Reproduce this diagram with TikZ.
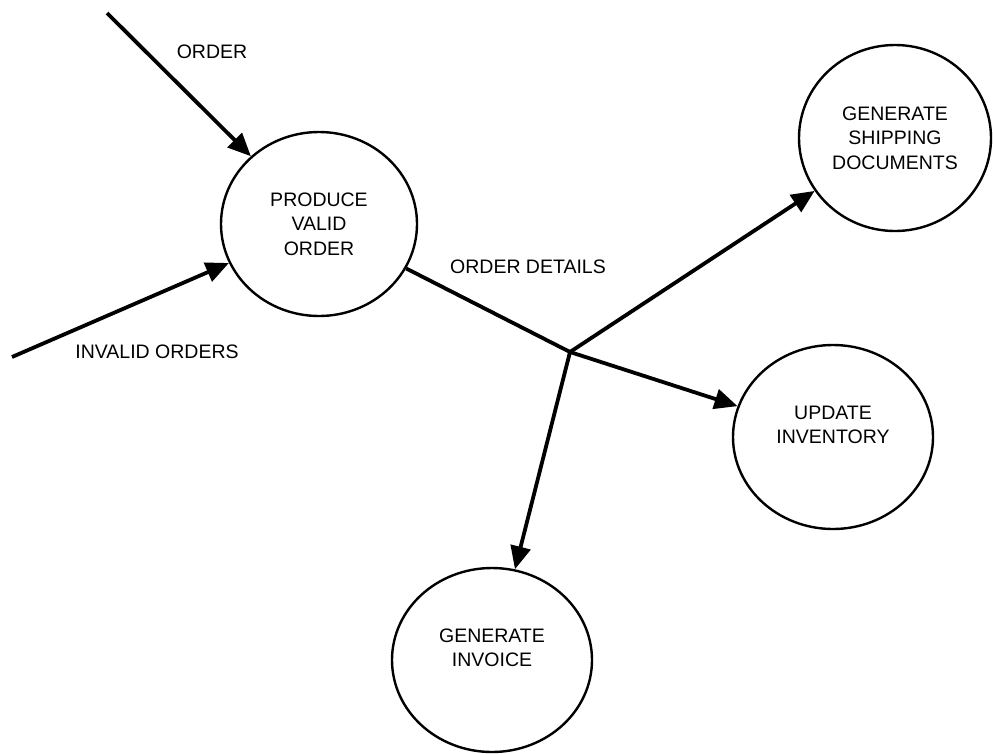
\documentclass[tikz,border=0pt]{standalone}
\usepackage{fontspec}
\setmainfont{Liberation Sans}
\usetikzlibrary{arrows.meta,shapes.geometric}

\begin{document}
\begin{tikzpicture}[
  x=1pt,y=-1pt,
  font=\fontsize{19.5}{24.5}\selectfont,
  proc/.style={ellipse,draw,line width=2.4pt,minimum width=196pt,minimum height=184pt,
               inner sep=2pt,align=center},
  flow/.style={-{Triangle[length=23pt,width=20pt]},line width=3.8pt},
  line/.style={line width=3.8pt},
  lbl/.style={inner sep=0pt}
]
\useasboundingbox (0,0) rectangle (993,753);
% processes
\node[proc] (valid) at (319,224) {PRODUCE\\VALID\\ORDER};
\node[proc,minimum width=192pt,minimum height=186pt] (ship) at (895,138) {GENERATE\\SHIPPING\\DOCUMENTS};
\node[proc,minimum width=200pt] (inv) at (833,437) {UPDATE\\INVENTORY\\\mbox{}};
\node[proc,minimum width=200pt] (invoice) at (492,660) {GENERATE\\INVOICE\\\mbox{}};
% free ends and split point
\coordinate (orderin) at (107,13);
\coordinate (invalidin) at (12,357);
\coordinate (split) at (570,352);
% flow labels
\node[lbl] (lorder) at (212,52) {ORDER};
\node[lbl] (linvalid) at (157,352) {INVALID ORDERS};
\node[lbl] (ldetails) at (528,267) {ORDER DETAILS};
% flows
\draw[flow] (orderin) -- (valid);
\draw[flow] (invalidin) -- (valid);
\draw[line,line join=miter] (valid) -- (split);
\draw[flow] (split) -- (ship);
\draw[flow] (split) -- (inv);
\draw[flow] (split) -- (invoice);
\end{tikzpicture}
\end{document}
